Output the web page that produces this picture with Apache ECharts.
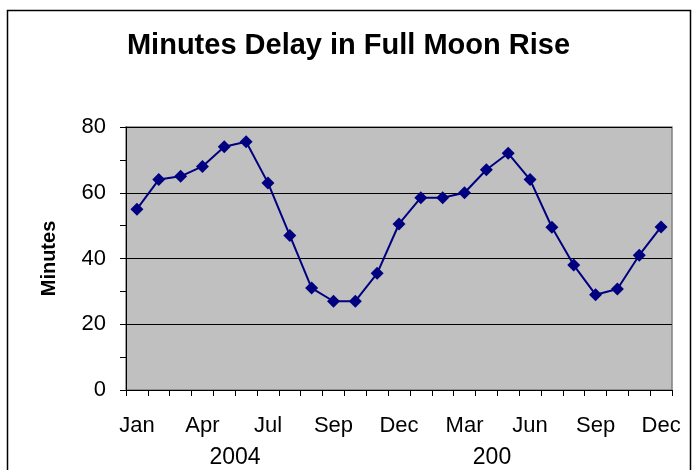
<!DOCTYPE html>
<html>
<head>
<meta charset="utf-8">
<script src="https://cdn.jsdelivr.net/npm/echarts@6/dist/echarts.min.js"></script>
<style>
  html, body { margin: 0; padding: 0; background: #fff; }
  #chart { width: 697px; height: 470px; }
</style>
</head>
<body>
<div id="chart"></div>
<script>
// full moon dates 2004-2005, month of each full moon
const categories = [
  "Jan", "Feb", "Mar", "Apr", "May", "Jun", "Jul", "Jul", "Aug", "Sep", "Oct", "Nov", "Dec",
  "Jan", "Feb", "Mar", "Apr", "May", "Jun", "Jul", "Aug", "Sep", "Oct", "Nov", "Dec"
];
const delayMinutes = [
  55, 64, 65, 68, 74, 75.5, 63, 47, 31, 27, 27, 35.5, 50.5,
  58.5, 58.5, 60, 67, 72, 64, 49.5, 38, 29, 30.7, 41, 49.6
];
const yearLabels = ["2004", "200"];

const chart = echarts.init(document.getElementById("chart"));
const fontFamily = "Liberation Sans, Arial, sans-serif";

const option = {
  animation: false,
  backgroundColor: "#fff",
  title: {
    text: "Minutes Delay in Full Moon Rise",
    left: "center",
    top: 26,
    textStyle: { fontFamily, fontSize: 29, fontWeight: "bold", color: "#000" },
  },
  grid: { left: 126, right: 25, top: 127, bottom: 80 },
  xAxis: {
    type: "category",
    data: categories,
    boundaryGap: true,
    axisLine: { lineStyle: { color: "#000", width: 1 } },
    axisTick: { show: true, interval: 0, length: 6, lineStyle: { color: "#000" } },
    axisLabel: {
      interval: 2,
      margin: 25,
      color: "#000",
      fontFamily,
      fontSize: 22,
    },
    splitLine: { show: false },
  },
  yAxis: {
    type: "value",
    min: 0,
    max: 80,
    interval: 20,
    name: "Minutes",
    nameLocation: "middle",
    nameGap: 67,
    nameTextStyle: { fontFamily, fontSize: 20, fontWeight: "bold", color: "#000" },
    axisLine: { show: true, lineStyle: { color: "#000", width: 1 } },
    axisTick: { show: true, length: 6, lineStyle: { color: "#000" } },
    minorTick: { show: true, splitNumber: 2, length: 6, lineStyle: { color: "#000" } },
    axisLabel: { margin: 20, color: "#000", fontFamily, fontSize: 22 },
    splitLine: { show: true, lineStyle: { color: "#000", width: 1 } },
  },
  series: [
    {
      type: "line",
      data: delayMinutes,
      symbol: "diamond",
      symbolSize: 13,
      showAllSymbol: true,
      lineStyle: { color: "#000080", width: 2 },
      itemStyle: { color: "#000080" },
    },
  ],
  graphic: [
    {
      type: "rect",
      z: -1,
      shape: { x: 126, y: 127, width: 546, height: 263 },
      style: { fill: "#C0C0C0", stroke: "#808080", lineWidth: 1.5 },
      silent: true,
    },
    {
      type: "rect",
      shape: { x: 7.5, y: 10.5, width: 683, height: 480 },
      style: { fill: null, stroke: "#000", lineWidth: 1.5 },
      silent: true,
    },
    {
      type: "text",
      x: 235,
      y: 458,
      style: {
        text: yearLabels[0], fontFamily, fontSize: 23, fill: "#000",
        align: "center", verticalAlign: "middle",
      },
    },
    {
      type: "text",
      x: 492,
      y: 458,
      style: {
        text: yearLabels[1], fontFamily, fontSize: 23, fill: "#000",
        align: "center", verticalAlign: "middle",
      },
    },
  ],
};

chart.setOption(option);
</script>
</body>
</html>
